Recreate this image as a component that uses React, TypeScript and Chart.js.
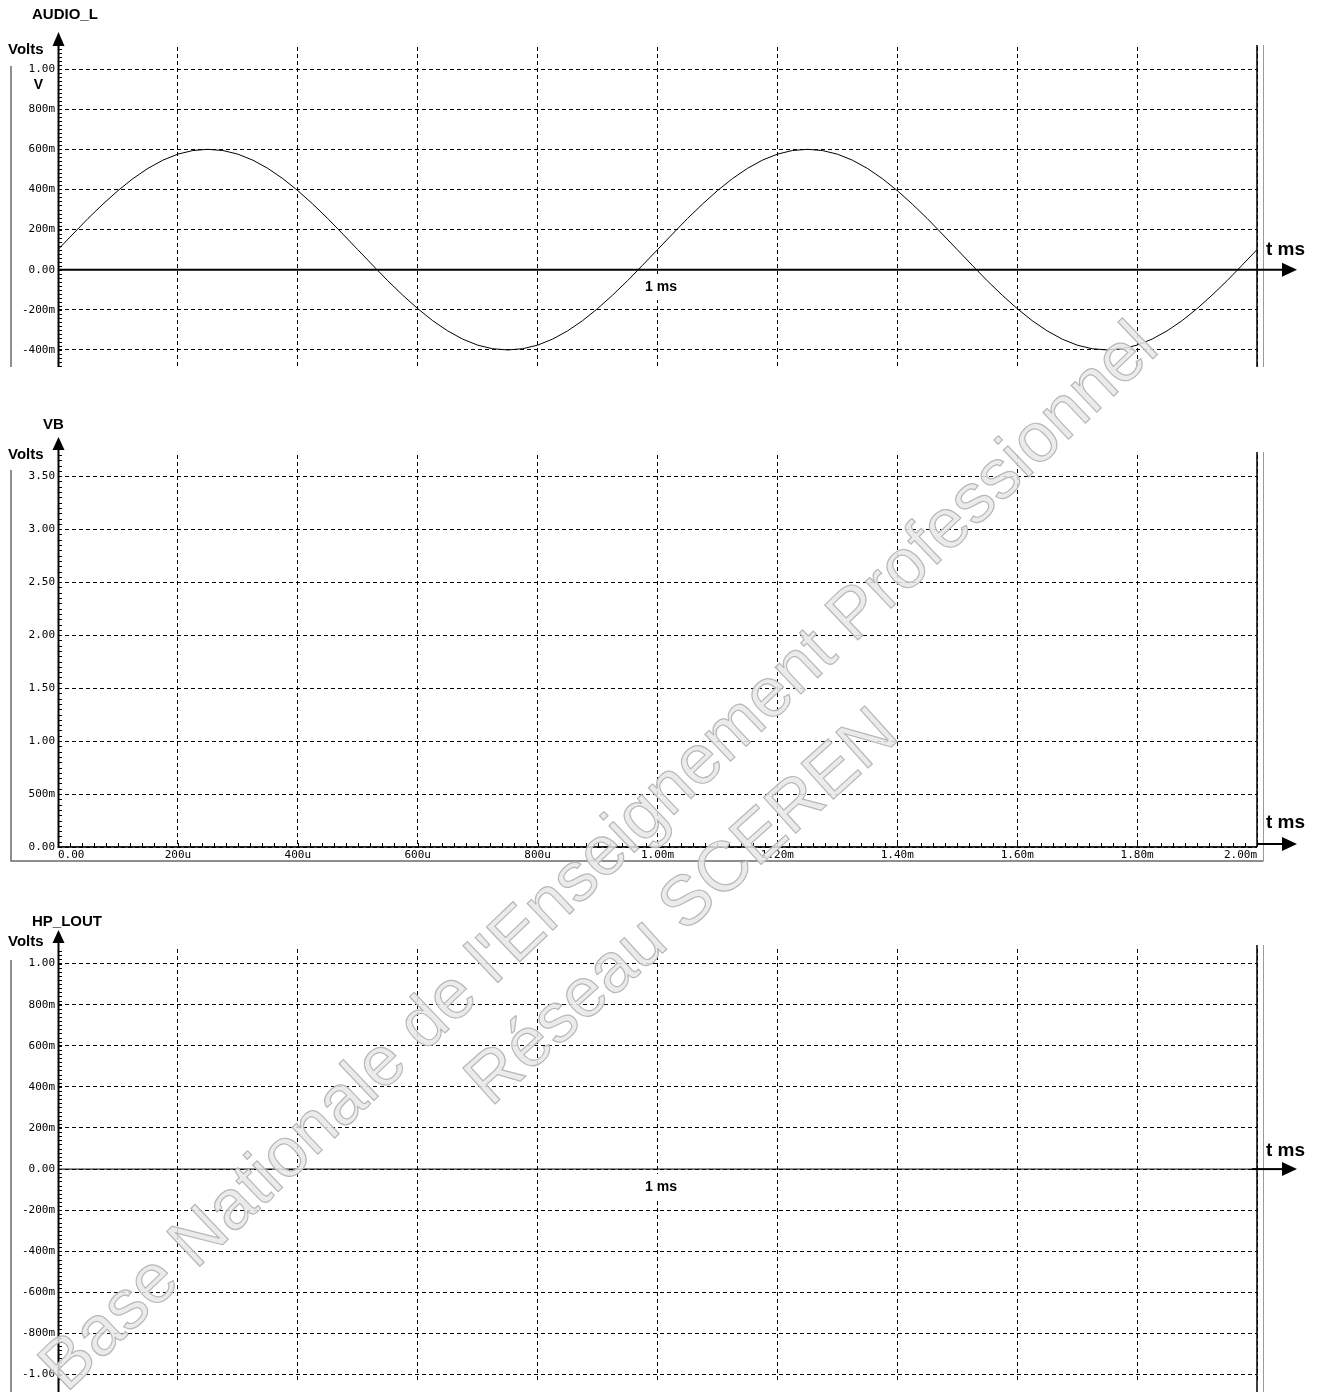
import React, { useEffect, useRef } from 'react';
import { Chart, registerables } from 'chart.js';

Chart.register(...registerables);

// ---------- data ----------
const timeMs = [
  0, 0.025, 0.05, 0.075, 0.1, 0.125, 0.15, 0.175, 0.2, 0.225,
  0.25, 0.275, 0.3, 0.325, 0.35, 0.375, 0.4, 0.425, 0.45, 0.475,
  0.5, 0.525, 0.55, 0.575, 0.6, 0.625, 0.65, 0.675, 0.7, 0.725,
  0.75, 0.775, 0.8, 0.825, 0.85, 0.875, 0.9, 0.925, 0.95, 0.975,
  1.0, 1.025, 1.05, 1.075, 1.1, 1.125, 1.15, 1.175, 1.2, 1.225,
  1.25, 1.275, 1.3, 1.325, 1.35, 1.375, 1.4, 1.425, 1.45, 1.475,
  1.5, 1.525, 1.55, 1.575, 1.6, 1.625, 1.65, 1.675, 1.7, 1.725,
  1.75, 1.775, 1.8, 1.825, 1.85, 1.875, 1.9, 1.925, 1.95, 1.975,
  2.0,
];

const audioL = [
  0.100, 0.178, 0.255, 0.327, 0.394, 0.454, 0.505, 0.546, 0.576, 0.594,
  0.600, 0.594, 0.576, 0.546, 0.505, 0.454, 0.394, 0.327, 0.255, 0.178,
  0.100, 0.022, -0.055, -0.127, -0.194, -0.254, -0.305, -0.346, -0.376, -0.394,
  -0.400, -0.394, -0.376, -0.346, -0.305, -0.254, -0.194, -0.127, -0.055, 0.022,
  0.100, 0.178, 0.255, 0.327, 0.394, 0.454, 0.505, 0.546, 0.576, 0.594,
  0.600, 0.594, 0.576, 0.546, 0.505, 0.454, 0.394, 0.327, 0.255, 0.178,
  0.100, 0.022, -0.055, -0.127, -0.194, -0.254, -0.305, -0.346, -0.376, -0.394,
  -0.400, -0.394, -0.376, -0.346, -0.305, -0.254, -0.194, -0.127, -0.055, 0.022,
  0.100,
];

const flatTime = [0, 2];
const vbValues = [0, 0];
const hpLoutValues = [0, 0];

const timeTicks = [0, 0.2, 0.4, 0.6, 0.8, 1.0, 1.2, 1.4, 1.6, 1.8, 2.0];
const timeTickLabels = ['0.00', '200u', '400u', '600u', '800u', '1.00m', '1.20m', '1.40m', '1.60m', '1.80m', '2.00m'];

const audioTicks = [-0.4, -0.2, 0, 0.2, 0.4, 0.6, 0.8, 1.0];
const audioTickLabels = ['-400m', '-200m', '0.00', '200m', '400m', '600m', '800m', '1.00'];

const vbTicks = [0, 0.5, 1.0, 1.5, 2.0, 2.5, 3.0, 3.5];
const vbTickLabels = ['0.00', '500m', '1.00', '1.50', '2.00', '2.50', '3.00', '3.50'];

const hpTicks = [-1.0, -0.8, -0.6, -0.4, -0.2, 0, 0.2, 0.4, 0.6, 0.8, 1.0];
const hpTickLabels = ['-1.00', '-800m', '-600m', '-400m', '-200m', '0.00', '200m', '400m', '600m', '800m', '1.00'];

// ---------- layout ----------
const W = 1324;
const AREA_LEFT = 58;
const AREA_RIGHT = 1257;
const BOLD = '"Liberation Sans", Arial, Helvetica, sans-serif';
const MONO = '"DejaVu Sans Mono", "Liberation Mono", monospace';

type Panel = {
  key: string;
  top: number;
  height: number;
  areaTop: number;
  areaBottom: number;
  xAxisHeight: number;
  yMin: number;
  yMax: number;
  yTicks: number[];
  yLabels: string[];
  yMinor: number;
  showXLabels: boolean;
  xs: number[];
  ys: number[];
  title: string;
  titleY: number;
  voltsY: number;
  arrowTip: number;
  arrowBase: number;
  axisBottom: number;
  frameLeftTop: number;
  frameRightTop: number;
  frameBottom: number;
  drawFrameBottom: boolean;
  tmsY: number;
  arrowY: number;
  arrowFrom: number;
  oneMsY: number | null;
  showV: boolean;
};

const panels: Panel[] = [
  {
    key: 'audio', top: 0, height: 380, areaTop: 47, areaBottom: 366, xAxisHeight: 0,
    yMin: -0.48, yMax: 1.11, yTicks: audioTicks, yLabels: audioTickLabels, yMinor: 0.02,
    showXLabels: false, xs: timeMs, ys: audioL,
    title: 'AUDIO_L', titleY: 15, voltsY: 50, arrowTip: 32, arrowBase: 46, axisBottom: 367,
    frameLeftTop: 66, frameRightTop: 45, frameBottom: 367, drawFrameBottom: false,
    tmsY: 250, arrowY: -1, arrowFrom: AREA_LEFT, oneMsY: 287, showV: true,
  },
  {
    key: 'vb', top: 380, height: 500, areaTop: 455, areaBottom: 847, xAxisHeight: 33,
    yMin: 0, yMax: 3.7, yTicks: vbTicks, yLabels: vbTickLabels, yMinor: 0.05,
    showXLabels: true, xs: flatTime, ys: vbValues,
    title: 'VB', titleY: 425, voltsY: 455, arrowTip: 437, arrowBase: 450, axisBottom: 848,
    frameLeftTop: 470, frameRightTop: 452, frameBottom: 861, drawFrameBottom: true,
    tmsY: 823, arrowY: 844, arrowFrom: AREA_RIGHT, oneMsY: null, showV: false,
  },
  {
    key: 'hp', top: 880, height: 512, areaTop: 949, areaBottom: 1392, xAxisHeight: 0,
    yMin: -1.038, yMax: 1.071, yTicks: hpTicks, yLabels: hpTickLabels, yMinor: 0.02,
    showXLabels: false, xs: flatTime, ys: hpLoutValues,
    title: 'HP_LOUT', titleY: 922, voltsY: 942, arrowTip: 930, arrowBase: 943, axisBottom: 1392,
    frameLeftTop: 960, frameRightTop: 945, frameBottom: 1392, drawFrameBottom: false,
    tmsY: 1151, arrowY: -1, arrowFrom: 1252, oneMsY: 1187, showV: false,
  },
];

function labelFor(ticks: number[], labels: string[], v: number): string {
  for (let i = 0; i < ticks.length; i++) {
    if (Math.abs(ticks[i] - v) < 1e-6) return labels[i];
  }
  return '';
}

function makeOverlay(p: Panel) {
  return {
    id: 'overlay_' + p.key,
    afterDraw(chart: any) {
      const ctx: CanvasRenderingContext2D = chart.ctx;
      const Y = (y: number) => y - p.top;
      const { left, right, bottom } = chart.chartArea;
      const ys = chart.scales.y;
      const xs = chart.scales.x;
      ctx.save();

      // minor y ticks
      ctx.strokeStyle = '#000';
      ctx.lineWidth = 1;
      ctx.setLineDash([]);
      ctx.beginPath();
      for (let i = Math.ceil(p.yMin / p.yMinor - 1e-6); i * p.yMinor <= p.yMax + 1e-9; i++) {
        const py = Math.round(ys.getPixelForValue(i * p.yMinor)) + 0.5;
        ctx.moveTo(left, py);
        ctx.lineTo(left + 4, py);
      }
      ctx.stroke();

      // minor x ticks (VB only)
      if (p.showXLabels) {
        ctx.beginPath();
        for (let i = 0; i <= 100; i++) {
          const px = Math.round(xs.getPixelForValue(i * 0.02)) + 0.5;
          ctx.moveTo(px, bottom);
          ctx.lineTo(px, bottom - 4);
        }
        ctx.stroke();
        ctx.lineWidth = 1.5;
        ctx.beginPath();
        ctx.moveTo(left, bottom);
        ctx.lineTo(right, bottom);
        ctx.stroke();
      }

      // grey frame
      ctx.strokeStyle = '#6a6a6a';
      ctx.lineWidth = 1.5;
      ctx.beginPath();
      ctx.moveTo(11, Y(p.frameLeftTop));
      ctx.lineTo(11, Y(p.frameBottom));
      if (p.drawFrameBottom) {
        ctx.lineTo(1263.5, Y(p.frameBottom));
      }
      ctx.stroke();
      ctx.strokeStyle = '#9a9a9a';
      ctx.lineWidth = 1;
      ctx.beginPath();
      ctx.moveTo(1263.5, Y(p.frameRightTop));
      ctx.lineTo(1263.5, Y(p.frameBottom));
      ctx.stroke();

      // right black border of plot
      ctx.strokeStyle = '#000';
      ctx.lineWidth = 1.5;
      ctx.beginPath();
      ctx.moveTo(right, Y(p.frameRightTop));
      ctx.lineTo(right, p.showXLabels ? bottom : Y(p.frameBottom));
      ctx.stroke();

      // y axis with arrow
      ctx.lineWidth = 2;
      ctx.beginPath();
      ctx.moveTo(left + 0.5, Y(p.arrowBase));
      ctx.lineTo(left + 0.5, Y(p.axisBottom));
      ctx.stroke();
      ctx.fillStyle = '#000';
      ctx.beginPath();
      ctx.moveTo(left + 0.5, Y(p.arrowTip));
      ctx.lineTo(left + 6.5, Y(p.arrowBase));
      ctx.lineTo(left - 5.5, Y(p.arrowBase));
      ctx.closePath();
      ctx.fill();

      // time axis arrow
      const ay = p.arrowY > 0 ? Y(p.arrowY) : ys.getPixelForValue(0);
      ctx.lineWidth = 2;
      ctx.beginPath();
      ctx.moveTo(p.arrowFrom, ay);
      ctx.lineTo(1283, ay);
      ctx.stroke();
      ctx.beginPath();
      ctx.moveTo(1297, ay);
      ctx.lineTo(1282, ay - 7);
      ctx.lineTo(1282, ay + 7);
      ctx.closePath();
      ctx.fill();

      // texts
      ctx.fillStyle = '#000';
      ctx.textBaseline = 'middle';
      ctx.textAlign = 'left';
      ctx.font = 'bold 15px ' + BOLD;
      ctx.fillText(p.title, p.key === 'vb' ? 43 : 32, Y(p.titleY));
      ctx.fillText('Volts', 8, Y(p.voltsY));
      if (p.showV) {
        ctx.font = 'bold 14px ' + BOLD;
        ctx.textAlign = 'center';
        ctx.fillText('V', 38.5, Y(85));
      }
      ctx.textAlign = 'left';
      ctx.font = 'bold 19px ' + BOLD;
      ctx.fillText('t ms', 1266, Y(p.tmsY));
      if (p.oneMsY !== null) {
        ctx.font = 'bold 14px ' + BOLD;
        const tw = ctx.measureText('1 ms').width;
        ctx.fillStyle = '#fff';
        ctx.fillRect(661 - tw / 2 - 3, Y(p.oneMsY) - 13, tw + 6, 26);
        ctx.fillStyle = '#000';
        ctx.textAlign = 'center';
        ctx.fillText('1 ms', 661, Y(p.oneMsY));
      }
      ctx.restore();
    },
  };
}

function PanelChart({ p }: { p: Panel }) {
  const ref = useRef<HTMLCanvasElement | null>(null);
  useEffect(() => {
    if (!ref.current) return;
    const data = p.xs.map((x, i) => ({ x, y: p.ys[i] }));
    const chart = new Chart(ref.current, {
      type: 'line',
      data: {
        datasets: [
          {
            data,
            borderColor: '#000',
            borderWidth: 1,
            pointRadius: 0,
            tension: 0,
            fill: false,
          },
        ],
      },
      options: {
        responsive: false,
        animation: false,
        events: [],
        layout: {
          padding: {
            left: 0,
            right: W - AREA_RIGHT,
            top: p.areaTop - p.top,
            bottom: p.height - (p.areaBottom - p.top) - p.xAxisHeight,
          },
        },
        plugins: { legend: { display: false }, tooltip: { enabled: false } },
        scales: {
          x: {
            type: 'linear',
            min: 0,
            max: 2,
            afterBuildTicks: (s: any) => {
              s.ticks = timeTicks.map((v) => ({ value: v }));
            },
            afterFit: (s: any) => {
              s.height = p.xAxisHeight;
            },
            grid: { color: '#000', lineWidth: 1, drawTicks: false },
            border: { display: false, dash: [4, 3] },
            ticks: {
              display: p.showXLabels,
              autoSkip: false,
              maxRotation: 0,
              align: 'inner',
              padding: 2,
              color: '#000',
              font: { family: MONO, size: 11 },
              callback: (v: any) => labelFor(timeTicks, timeTickLabels, Number(v)),
            },
          },
          y: {
            type: 'linear',
            min: p.yMin,
            max: p.yMax,
            afterBuildTicks: (s: any) => {
              s.ticks = p.yTicks.map((v) => ({ value: v }));
            },
            afterFit: (s: any) => {
              s.width = AREA_LEFT;
            },
            grid: { color: '#000', lineWidth: 1, drawTicks: false },
            border: { display: false, dash: [4, 3] },
            ticks: {
              autoSkip: false,
              padding: 3,
              color: '#000',
              font: { family: MONO, size: 11 },
              callback: (v: any) => labelFor(p.yTicks, p.yLabels, Number(v)),
            },
          },
        },
      } as any,
      plugins: [makeOverlay(p)],
    });
    return () => chart.destroy();
  }, [p]);
  return (
    <canvas
      ref={ref}
      width={W}
      height={p.height}
      style={{ position: 'absolute', left: 0, top: p.top, width: W, height: p.height }}
    />
  );
}

export default function App() {
  const wm: React.CSSProperties = {
    position: 'absolute',
    whiteSpace: 'nowrap',
    fontFamily: BOLD,
    fontSize: 70,
    color: 'rgba(232,232,232,0.85)',
    WebkitTextStroke: '1.2px #b8b8b8',
    lineHeight: 1,
    pointerEvents: 'none',
  } as React.CSSProperties;
  return (
    <div style={{ position: 'absolute', left: 0, top: 0, width: W, height: 1392, background: '#fff', overflow: 'hidden' }}>
      {panels.map((p) => (
        <PanelChart key={p.key} p={p} />
      ))}
      <div style={{ ...wm, left: 597, top: 855, transform: 'translate(-50%, -50%) rotate(-43.6deg)' }}>
        Base Nationale de l'Enseignement Professionnel
      </div>
      <div style={{ ...wm, left: 680, top: 905, transform: 'translate(-50%, -50%) rotate(-42deg)' }}>
        Réseau SCEREN
      </div>
    </div>
  );
}
